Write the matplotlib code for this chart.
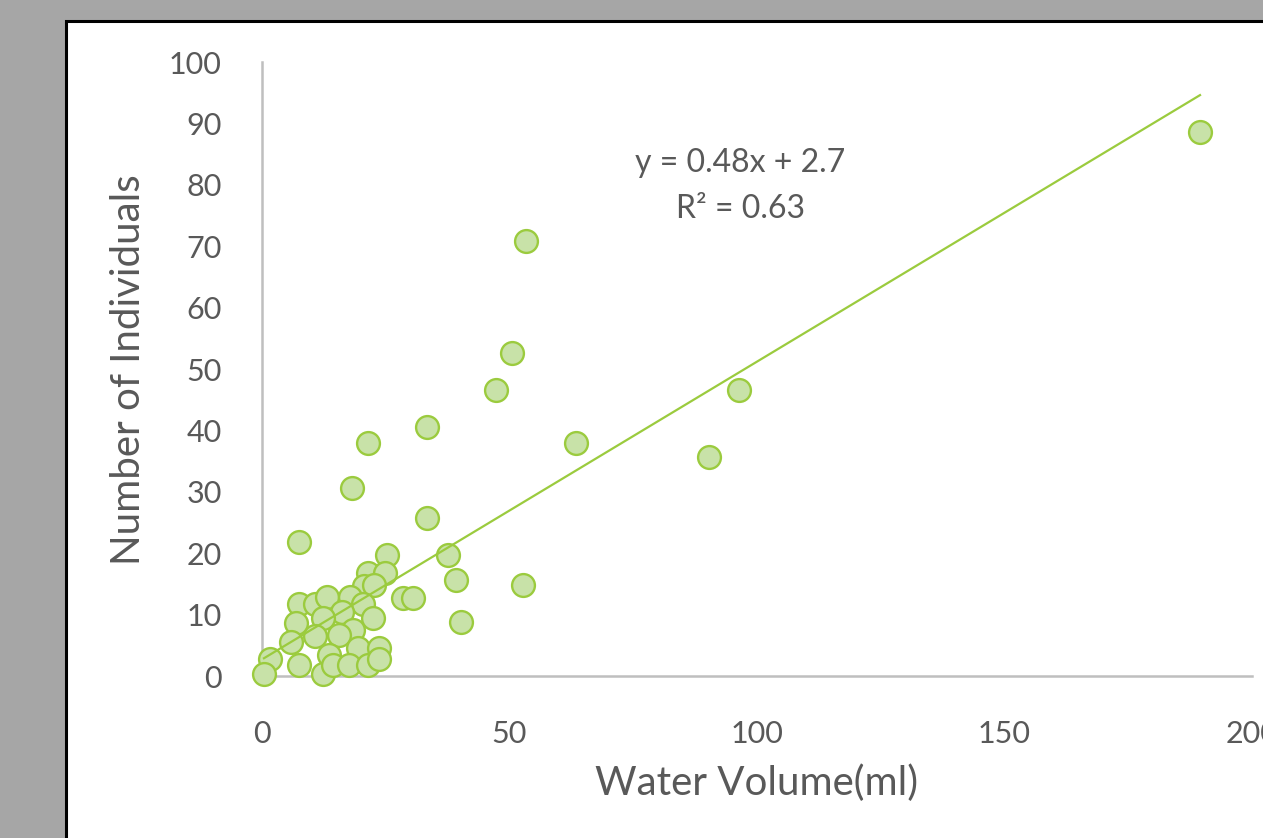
import matplotlib
matplotlib.use("Agg")
import matplotlib.pyplot as plt
from matplotlib.patches import Rectangle
import numpy as np

# Data
water_volume = [189.5, 53.3, 50.5, 47.3, 96.4, 33.3, 21.4, 63.4, 90.3, 18.2,
                33.3, 7.5, 25.3, 37.6, 39.2, 52.7, 40.2, 28.5, 30.6, 21.5,
                24.8, 20.6, 22.6, 7.5, 10.7, 13.1, 17.8, 20.5, 22.5, 16.1,
                12.4, 6.9, 18.3, 15.6, 10.8, 5.9, 19.3, 23.6, 13.5, 1.6,
                7.5, 12.3, 14.4, 17.6, 21.4, 23.7, 0.4]
individuals = [88.6, 70.8, 52.6, 46.6, 46.6, 40.6, 37.9, 37.9, 35.7, 30.6,
               25.7, 21.8, 19.7, 19.7, 15.6, 14.8, 8.8, 12.7, 12.7, 16.7,
               16.7, 14.7, 14.8, 11.8, 11.8, 12.8, 12.8, 11.8, 9.5, 10.5,
               9.5, 8.7, 7.5, 6.6, 6.5, 5.6, 4.5, 4.5, 3.5, 2.7,
               1.8, 0.4, 1.8, 1.8, 1.8, 2.7, 0.4]
trend_slope = 0.485
trend_intercept = 2.7
equation_lines = ["y = 0.48x + 2.7", "R² = 0.63"]
x_ticks = [0, 50, 100, 150, 200]
y_ticks = [0, 10, 20, 30, 40, 50, 60, 70, 80, 90, 100]

plt.rcParams['font.family'] = ['Lato', 'DejaVu Sans']
text_color = '#595959'
axis_color = '#BFBFBF'
edge_green = '#9BCB3E'
face_green = '#C8E2A8'

W, H = 1263, 838
fig = plt.figure(figsize=(W / 100, H / 100), dpi=100)
fig.patch.set_facecolor('#A6A6A6')

# White panel with black border extending beyond the image
bg = fig.add_axes([0, 0, 1, 1], zorder=-5)
bg.set_xlim(0, W)
bg.set_ylim(H, 0)
bg.axis('off')
bg.add_patch(Rectangle((66, 21), W, H, facecolor='white',
                       edgecolor='black', linewidth=2.2))

ax = fig.add_axes([262 / W, (H - 676) / H, 990 / W, 614 / H], zorder=1)
ax.set_facecolor('none')
ax.set_xlim(0, 200)
ax.set_ylim(0, 100)

for s in ['top', 'right']:
    ax.spines[s].set_visible(False)
for s in ['left', 'bottom']:
    ax.spines[s].set_color(axis_color)
    ax.spines[s].set_linewidth(1.8)

ax.set_xticks(x_ticks)
ax.set_yticks(y_ticks)
ax.tick_params(axis='both', length=0, labelsize=22, colors=text_color)
ax.tick_params(axis='x', pad=32)
ax.tick_params(axis='y', pad=29)

ax.scatter(water_volume, individuals, s=270, facecolor=face_green,
           edgecolor=edge_green, linewidth=1.7, zorder=3, clip_on=False)

xs = np.array([min(water_volume), max(water_volume)])
ax.plot(xs, trend_slope * xs + trend_intercept, color=edge_green,
        linewidth=1.6, zorder=4)

ax.text(96.6, 82.1, equation_lines[0], ha='center', va='baseline',
        fontsize=23, color=text_color)
ax.text(96.6, 74.6, equation_lines[1], ha='center', va='baseline',
        fontsize=23, color=text_color)

ax.set_xlabel("Water Volume(ml)", fontsize=29, color=text_color)
ax.xaxis.set_label_coords(0.5, (676 - 795) / 614)
ax.xaxis.label.set_va('baseline')
ax.set_ylabel("Number of Individuals", fontsize=29, color=text_color)
ax.yaxis.set_label_coords((140 - 262) / 990, (676 - 370) / 614)
ax.yaxis.label.set_va('baseline')

fig.savefig("out.png", dpi=100, facecolor=fig.get_facecolor())
